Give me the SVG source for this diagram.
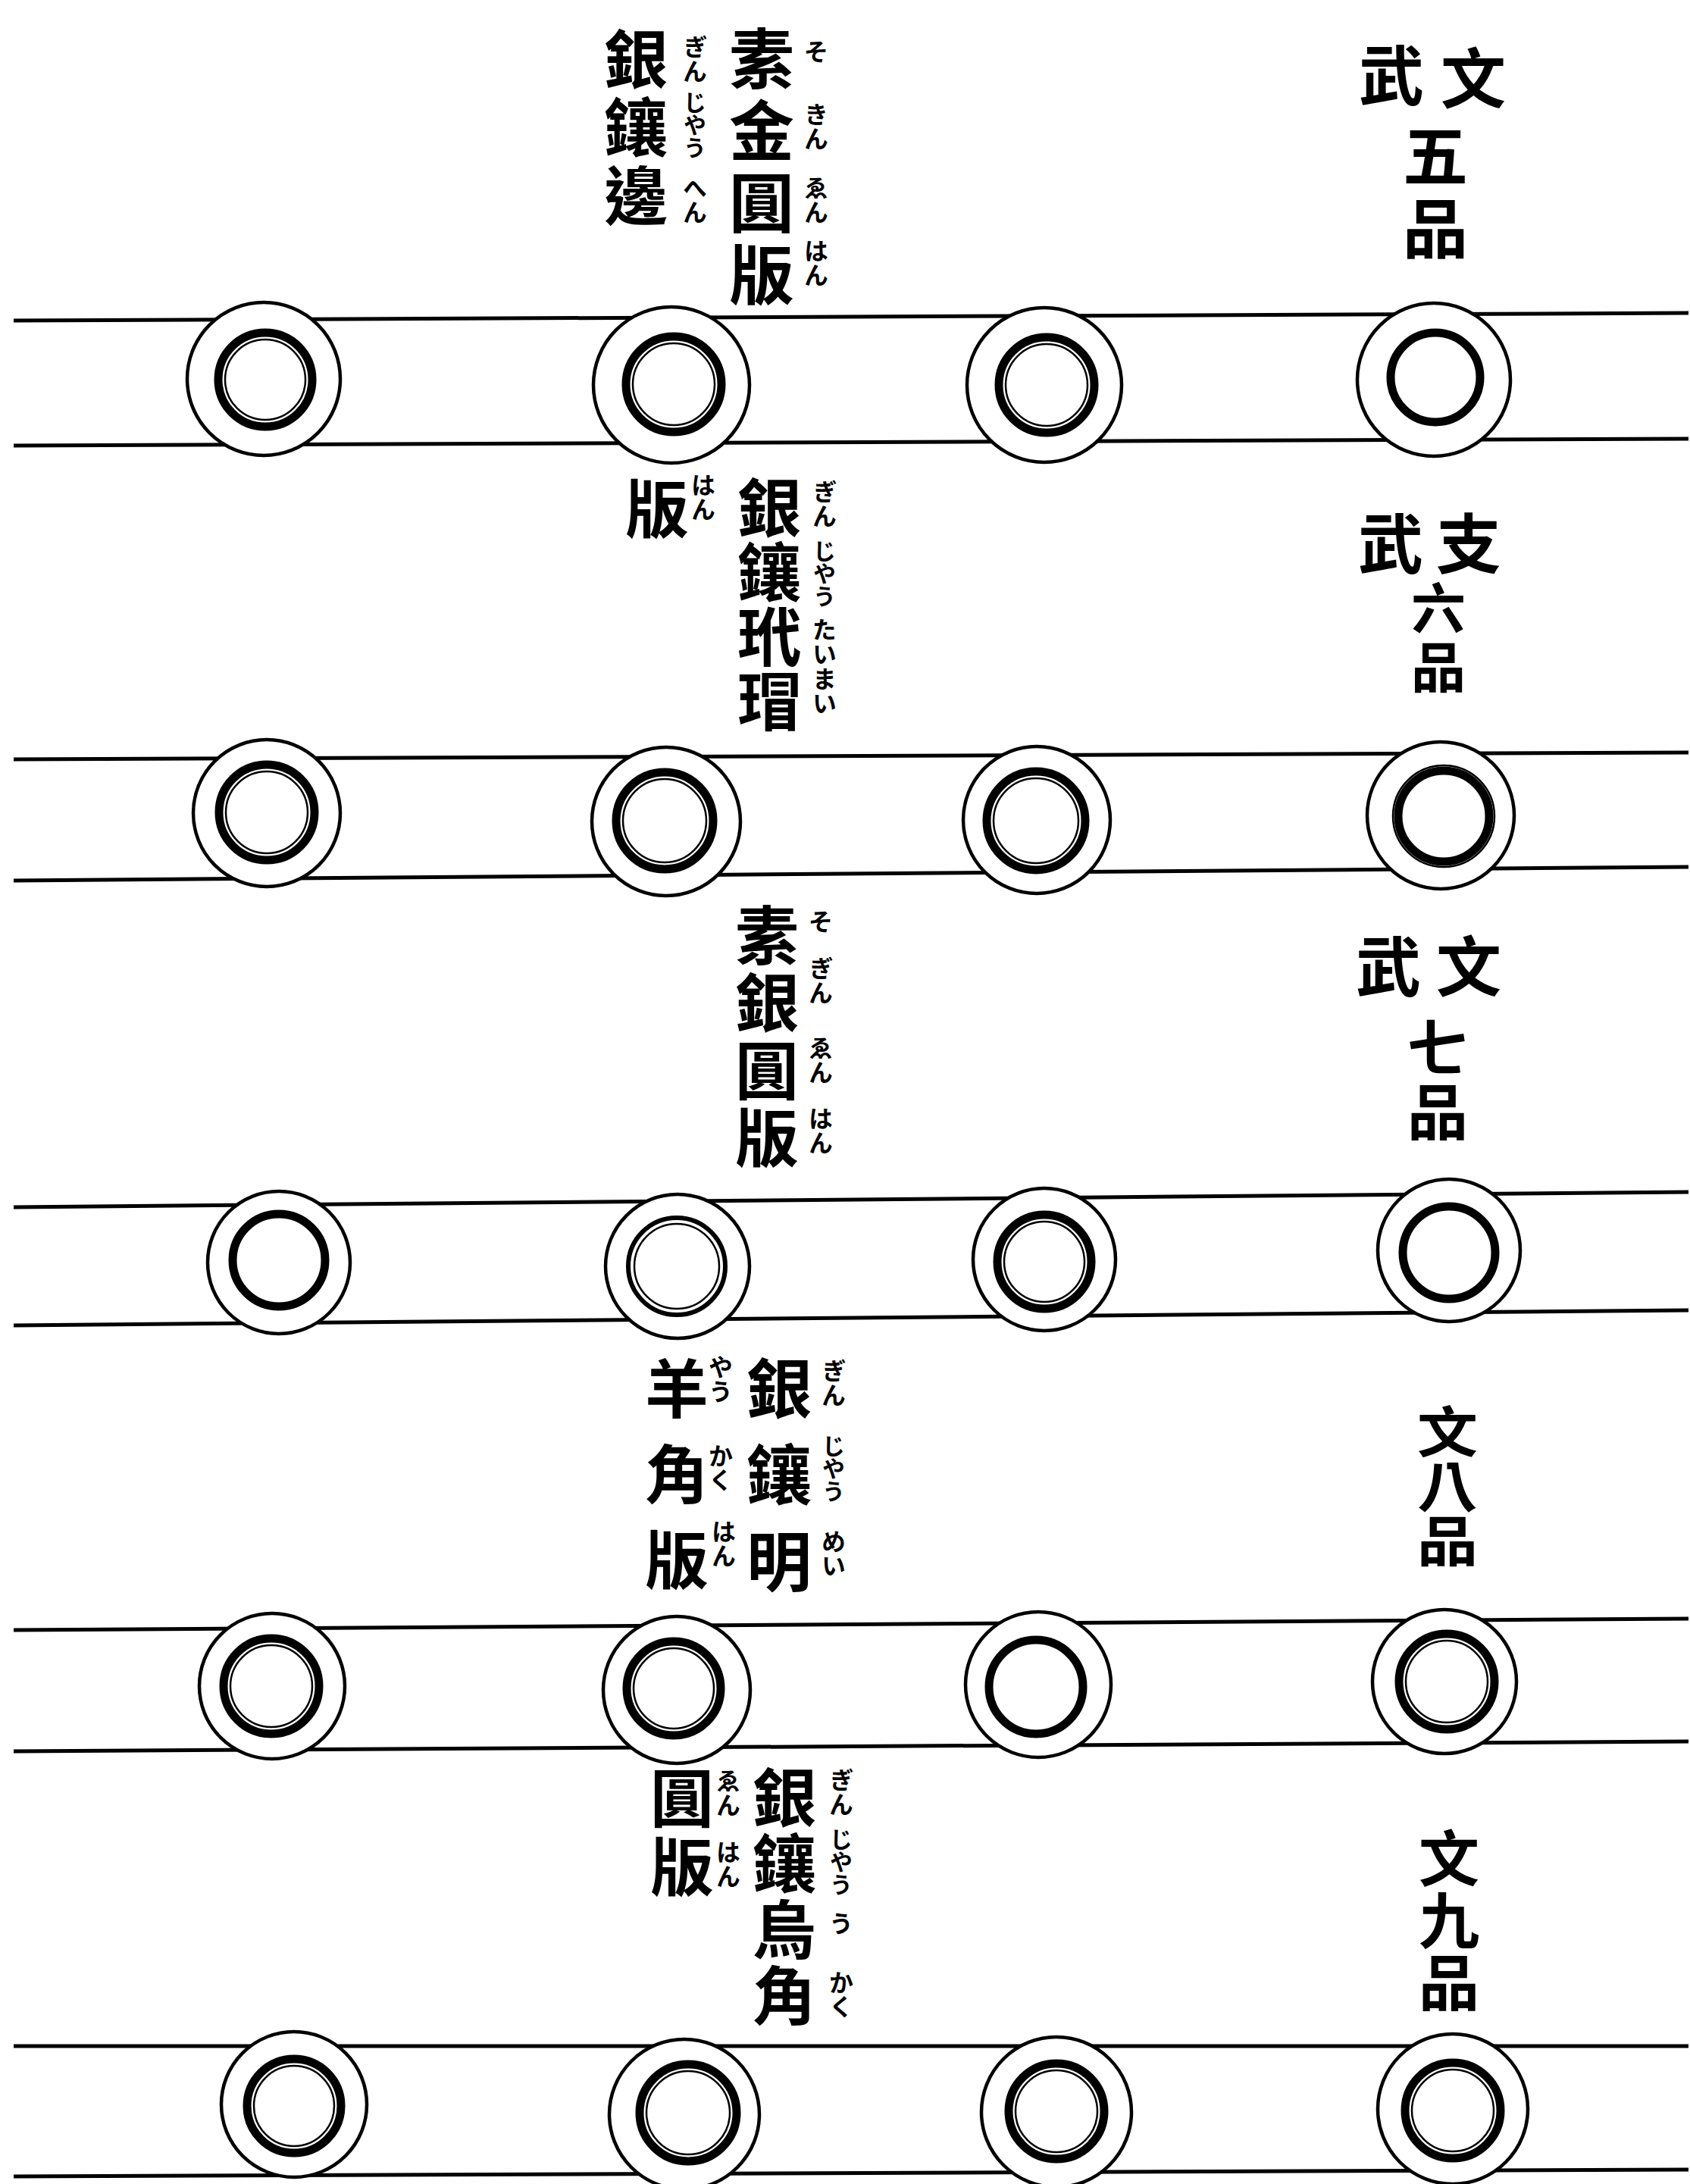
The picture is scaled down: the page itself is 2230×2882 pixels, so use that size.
<svg xmlns="http://www.w3.org/2000/svg" width="2230" height="2882" viewBox="0 0 2230 2882">
<style>
.ln{stroke:#000;stroke-width:5;fill:none}
.o{fill:#fff;stroke:#000;stroke-width:4.5}
.i{fill:none;stroke:#000;stroke-width:11}
.i2{fill:none;stroke:#000;stroke-width:2.5}
.i3{fill:none;stroke:#000;stroke-width:6}
text{font-family:"Noto Sans CJK TC","Noto Sans CJK JP",sans-serif;font-weight:700;fill:#000}
.h{text-anchor:middle;dominant-baseline:central}
.v{writing-mode:vertical-rl;text-anchor:start;dominant-baseline:central}
.r{font-size:86px}
.k{font-size:32px}
.k3{font-size:30px}
</style>
<rect width="2230" height="2882" fill="#fff"/>
<g id="connectors">
<line class="ln" x1="18" y1="423" x2="2228" y2="413"/>
<line class="ln" x1="18" y1="588" x2="2228" y2="579"/>
<line class="ln" x1="18" y1="1002" x2="2228" y2="993"/>
<line class="ln" x1="18" y1="1162" x2="2228" y2="1144"/>
<line class="ln" x1="18" y1="1593" x2="2228" y2="1573"/>
<line class="ln" x1="18" y1="1749" x2="2228" y2="1729"/>
<line class="ln" x1="18" y1="2151" x2="2228" y2="2136"/>
<line class="ln" x1="18" y1="2311" x2="2228" y2="2298"/>
<line class="ln" x1="18" y1="2700" x2="2228" y2="2700"/>
<line class="ln" x1="18" y1="2872" x2="2228" y2="2863"/>
</g>
<g id="row1-rings">
<g id="r1c1"><circle class="o" cx="348" cy="500" r="101"/><circle class="i" cx="350" cy="501" r="62"/><circle class="i2" cx="350" cy="501" r="53"/></g>
<g id="r1c2"><circle class="o" cx="886" cy="508" r="103"/><circle class="i" cx="889" cy="507" r="63"/><circle class="i2" cx="889" cy="507" r="54"/></g>
<g id="r1c3"><circle class="o" cx="1378" cy="508" r="102"/><circle class="i" cx="1381" cy="508" r="63"/><circle class="i2" cx="1381" cy="508" r="54"/></g>
<g id="r1c4"><circle class="o" cx="1892" cy="501" r="101"/><circle class="i" cx="1894" cy="498" r="59"/></g>
</g>
<g id="row2-rings">
<g id="r2c1"><circle class="o" cx="352" cy="1073" r="97"/><circle class="i" cx="352" cy="1072" r="63"/><circle class="i2" cx="352" cy="1072" r="54"/></g>
<g id="r2c2"><circle class="o" cx="879" cy="1084" r="98"/><circle class="i" cx="877" cy="1083" r="64"/><circle class="i2" cx="877" cy="1083" r="55"/></g>
<g id="r2c3"><circle class="o" cx="1368" cy="1082" r="97"/><circle class="i" cx="1367" cy="1083" r="65"/><circle class="i2" cx="1367" cy="1083" r="56"/></g>
<g id="r2c4"><circle class="o" cx="1901" cy="1076" r="97"/><circle class="i2" cx="1905" cy="1077" r="67"/><circle class="i" cx="1905" cy="1077" r="60"/></g>
</g>
<g id="row3-rings">
<g id="r3c1"><circle class="o" cx="368" cy="1666" r="94"/><circle class="i" cx="368" cy="1663" r="61"/></g>
<g id="r3c2"><circle class="o" cx="894" cy="1671" r="95"/><circle class="i3" cx="893" cy="1671" r="64"/><circle class="i2" cx="893" cy="1671" r="56"/></g>
<g id="r3c3"><circle class="o" cx="1378" cy="1662" r="94"/><circle class="i" cx="1378" cy="1665" r="62"/><circle class="i2" cx="1378" cy="1665" r="53"/></g>
<g id="r3c4"><circle class="o" cx="1912" cy="1650" r="94"/><circle class="i" cx="1912" cy="1653" r="61"/></g>
</g>
<g id="row4-rings">
<g id="r4c1"><circle class="o" cx="359" cy="2225" r="96"/><circle class="i" cx="358" cy="2225" r="63"/><circle class="i2" cx="358" cy="2225" r="54"/></g>
<g id="r4c2"><circle class="o" cx="893" cy="2230" r="97"/><circle class="i" cx="889" cy="2228" r="62"/><circle class="i2" cx="889" cy="2228" r="53"/></g>
<g id="r4c3"><circle class="o" cx="1370" cy="2223" r="96"/><circle class="i" cx="1367" cy="2226" r="62"/></g>
<g id="r4c4"><circle class="o" cx="1906" cy="2219" r="95"/><circle class="i" cx="1909" cy="2219" r="63"/><circle class="i2" cx="1909" cy="2219" r="54"/></g>
</g>
<g id="row5-rings">
<g id="r5c1"><circle class="o" cx="388" cy="2777" r="96"/><circle class="i" cx="388" cy="2779" r="62"/><circle class="i2" cx="388" cy="2779" r="53"/></g>
<g id="r5c2"><circle class="o" cx="903" cy="2790" r="99"/><circle class="i" cx="908" cy="2788" r="64"/><circle class="i2" cx="908" cy="2788" r="55"/></g>
<g id="r5c3"><circle class="o" cx="1394" cy="2787" r="99"/><circle class="i" cx="1394" cy="2786" r="63"/><circle class="i2" cx="1394" cy="2786" r="54"/></g>
<g id="r5c4"><circle class="o" cx="1917" cy="2783" r="99"/><circle class="i" cx="1917" cy="2785" r="63"/><circle class="i2" cx="1917" cy="2785" r="54"/></g>
</g>
<g id="label-rank5">
<text class="r h" x="1836" y="94">武</text><text class="r h" x="1944" y="98">文</text>
<text class="r v" x="1894" y="162" style="letter-spacing:10px">五品</text>
</g>
<g id="label-rank6">
<text class="r h" x="1835" y="712">武</text><text class="r h" x="1938" y="712">支</text>
<text class="v" x="1898" y="766" style="font-size:72px;letter-spacing:6px">六品</text>
</g>
<g id="label-rank7">
<text class="r h" x="1832" y="1270">武</text><text class="r h" x="1938" y="1270">文</text>
<text class="v" x="1897" y="1342" style="font-size:80px;letter-spacing:5px">七品</text>
</g>
<g id="label-rank8">
<text class="v" x="0" y="0" style="font-size:80px" transform="translate(1910 1853) scale(1 0.9)">文八品</text>
</g>
<g id="label-rank9">
<text class="v" x="1912" y="2412" style="font-size:80px;letter-spacing:2px">文九品</text>
</g>
<g id="text-rank5">
<text class="r v" x="1005" y="34" style="letter-spacing:9px">素金圓版</text>
<text class="k v" x="1077" y="52">そ</text>
<text class="k v" x="1077" y="135">きん</text>
<text class="k v" x="1077" y="232">ゑん</text>
<text class="k v" x="1077" y="315">はん</text>
<text class="v" x="839" y="36" style="font-size:84px;letter-spacing:6px">銀鑲邊</text>
<text class="k v" x="917" y="46">ぎん</text>
<text class="k3 v" x="917" y="120">じやう</text>
<text class="k v" x="917" y="232">へん</text>
</g>
<g id="text-rank6">
<text class="v" x="1015" y="628" style="font-size:84px;letter-spacing:1px">銀鑲玳瑁</text>
<text class="k v" x="1088" y="633">ぎん</text>
<text class="k3 v" x="1088" y="712">じやう</text>
<text class="k v" x="1088" y="815">たい</text>
<text class="k v" x="1088" y="880">まい</text>
<text class="h" x="867" y="666" style="font-size:84px">版</text>
<text class="k v" x="928" y="624">はん</text>
</g>
<g id="text-rank7">
<text class="v" x="1012" y="1192" style="font-size:84px;letter-spacing:5px">素銀圓版</text>
<text class="k v" x="1083" y="1200">そ</text>
<text class="k v" x="1083" y="1262">ぎん</text>
<text class="k v" x="1083" y="1367">ゑん</text>
<text class="k v" x="1083" y="1460">はん</text>
</g>
<g id="text-rank8">
<text class="v" x="1028" y="1789" style="font-size:86px;letter-spacing:28px">銀鑲明</text>
<text class="k v" x="1100" y="1793">ぎん</text>
<text class="k3 v" x="1100" y="1893">じやう</text>
<text class="k v" x="1100" y="2018">めい</text>
<text class="v" x="893" y="1790" style="font-size:84px;letter-spacing:29px">羊角版</text>
<text class="k v" x="951" y="1788">やう</text>
<text class="k v" x="951" y="1905">かく</text>
<text class="k v" x="955" y="2005">はん</text>
</g>
<g id="text-rank9">
<text class="v" x="1035" y="2330" style="font-size:84px;letter-spacing:3px">銀鑲烏角</text>
<text class="k v" x="1110" y="2333">ぎん</text>
<text class="k3 v" x="1110" y="2412">じやう</text>
<text class="k v" x="1110" y="2522">う</text>
<text class="k v" x="1110" y="2600">かく</text>
<text class="v" x="900" y="2330" style="font-size:84px;letter-spacing:7px">圓版</text>
<text class="k v" x="961" y="2334">ゑん</text>
<text class="k v" x="961" y="2428">はん</text>
</g>
</svg>
